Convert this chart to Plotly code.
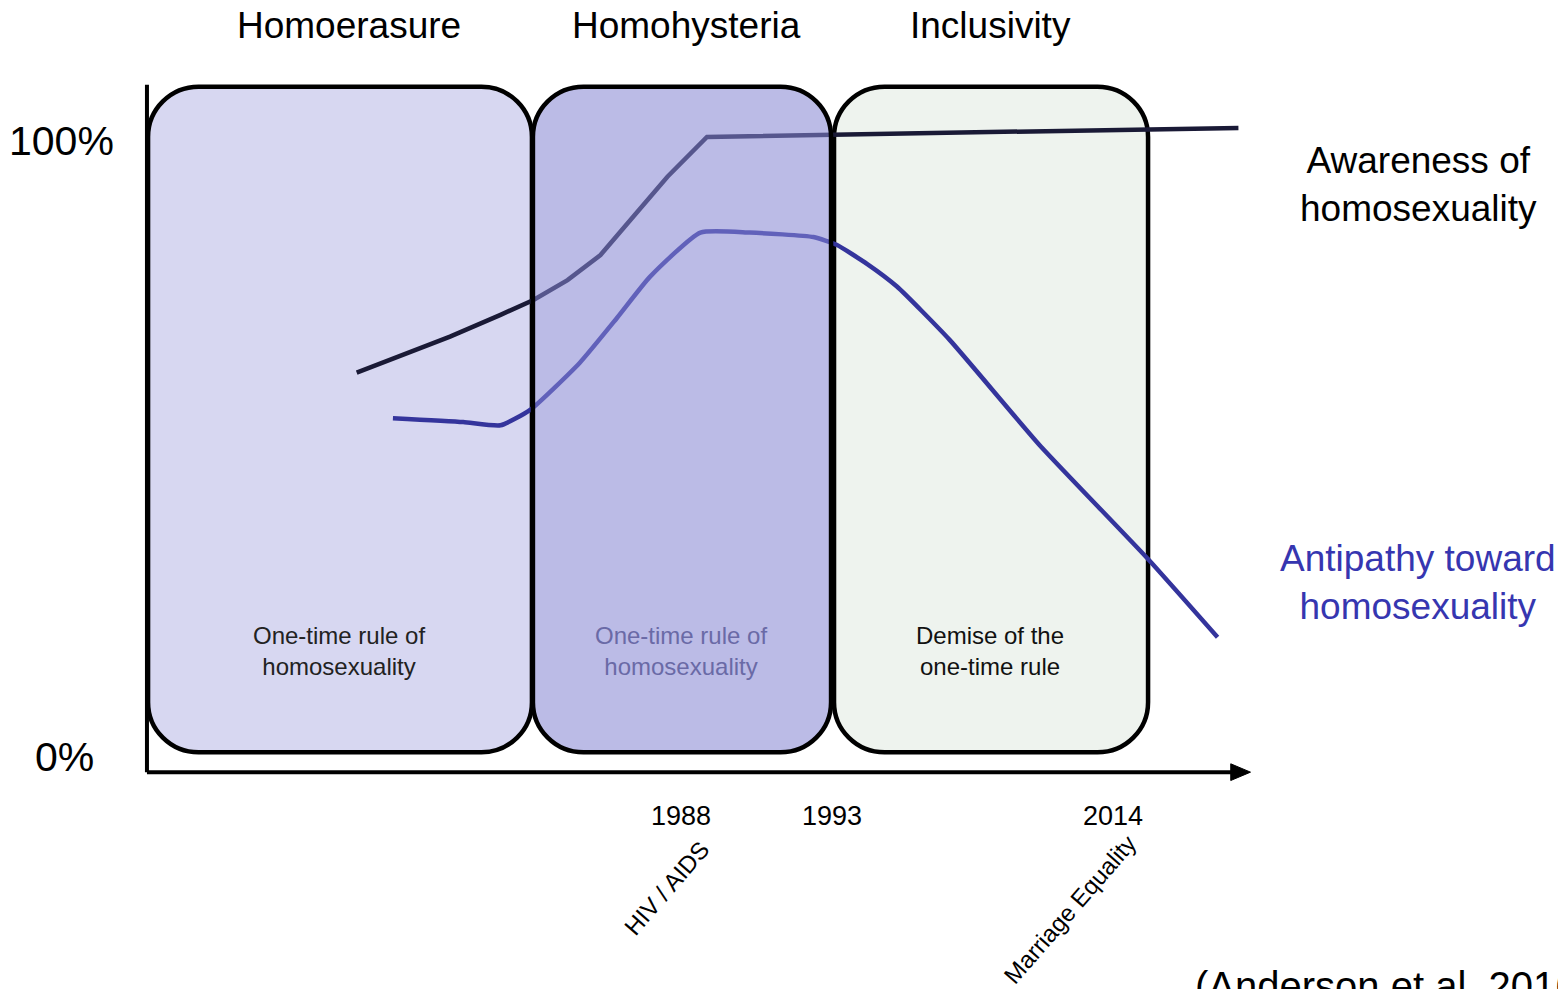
import plotly.graph_objects as go

# ---------------- data (conceptual units: x = time axis 0-100, y = percent) -------------
aware_x = [19.1, 27.6, 32.2, 35.2, 38.3, 41.3, 44.3, 47.4, 51.0, 62.2, 99.4]
aware_y = [62.2, 67.8, 71.2, 73.5, 76.6, 80.5, 86.5, 92.7, 98.9, 99.2, 100.3]

anti_x = [22.4, 28.8, 32.2, 34.9, 39.4, 42.8, 45.8, 50.4, 54.9, 60.7, 62.8, 65.6, 68.3, 73.1, 81.3, 91.1, 97.5]
anti_y = [55.1, 54.5, 54.0, 56.4, 63.7, 70.7, 77.1, 84.0, 84.0, 83.3, 82.1, 79.1, 75.6, 67.3, 50.9, 33.3, 21.0]

era_names = ["Homoerasure", "Homohysteria", "Inclusivity"]
era_x0 = [0.1, 35.15, 62.57]
era_x1 = [35.06, 62.30, 91.17]
era_text = ["One-time rule of<br>homosexuality", "One-time rule of<br>homosexuality",
            "Demise of the<br>one-time rule"]
era_fill = ["#d7d7f1", "rgba(134,134,210,0.56)", "#eef3ee"]
era_layer = ["below", "above", "below"]
era_textcolor = ["#222222", "#6a6aa6", "#111111"]

year_labels = ["1988", "1993", "2014"]
event_labels = ["HIV / AIDS", "Marriage Equality"]

# ---------------- layout helpers (screen pixels -> paper) -------------
W, H = 1566, 989
OFF = 8                                   # page body margin
L, R, T, B = 117, 1248, 64, 777           # plot area inside the figure
XR = [-2, 101]
YR = [-2, 109]
FONT = "Liberation Sans, Arial, Helvetica, sans-serif"

def px_x(px):
    return (px - OFF - L) / (R - L)

def px_y(py):
    return (B - (py - OFF)) / (B - T)

def rounded_rect(x0, x1, y0, y1, rx, ry):
    k = 0.5523
    return (f"M {x0+rx},{y1} L {x1-rx},{y1} "
            f"C {x1-rx+rx*k},{y1} {x1},{y1-ry+ry*k} {x1},{y1-ry} "
            f"L {x1},{y0+ry} "
            f"C {x1},{y0+ry-ry*k} {x1-rx+rx*k},{y0} {x1-rx},{y0} "
            f"L {x0+rx},{y0} "
            f"C {x0+rx-rx*k},{y0} {x0},{y0+ry-ry*k} {x0},{y0+ry} "
            f"L {x0},{y1-ry} "
            f"C {x0},{y1-ry+ry*k} {x0+rx-rx*k},{y1} {x0+rx},{y1} Z")

fig = go.Figure()

fig.add_trace(go.Scatter(x=aware_x, y=aware_y, mode="lines",
                         line=dict(color="#1a1a36", width=4.5, shape="linear"),
                         hoverinfo="skip", showlegend=False))
fig.add_trace(go.Scatter(x=anti_x, y=anti_y, mode="lines",
                         line=dict(color="#34349c", width=4.5, shape="spline", smoothing=0.5),
                         hoverinfo="skip", showlegend=False))

shapes = []
box_top, box_bot = 106.7, 3.1
for i in range(3):
    shapes.append(dict(type="path", xref="x", yref="y",
                       path=rounded_rect(era_x0[i], era_x1[i], box_bot, box_top, 4.6, 7.8),
                       fillcolor=era_fill[i], line=dict(color="black", width=4.5),
                       layer=era_layer[i]))

# axes
shapes.append(dict(type="line", xref="x", yref="y", x0=0, x1=0, y0=0, y1=107,
                   line=dict(color="black", width=4), layer="above"))
shapes.append(dict(type="line", xref="x", yref="y", x0=0, x1=99.2, y0=0, y1=0,
                   line=dict(color="black", width=4), layer="above"))
shapes.append(dict(type="path", xref="x", yref="y",
                   path="M 98.7,1.3 L 100.5,0 L 98.7,-1.3 Z",
                   fillcolor="black", line=dict(color="black", width=1), layer="above"))

def label(px, py, text, size, color="black", angle=0, xanchor="center"):
    return dict(x=px_x(px), y=px_y(py), xref="paper", yref="paper", text=text,
                showarrow=False, xanchor=xanchor, yanchor="middle", textangle=angle,
                font=dict(size=size, color=color, family=FONT))

ann = []
title_px = [349, 686, 990]
box_text_px = [339, 681, 990]
for i in range(3):
    ann.append(label(title_px[i], 25, era_names[i], 37))
    ann.append(label(box_text_px[i], 651, era_text[i], 24, era_textcolor[i]))

ann.append(label(61, 141, "100%", 41))
ann.append(label(64, 757, "0%", 41))

year_px = [681, 832, 1113]
for lab, px in zip(year_labels, year_px):
    ann.append(label(px, 816, lab, 27))

ann.append(label(666, 888, event_labels[0], 24, angle=-49))
ann.append(label(1070, 910, event_labels[1], 24, angle=-49))

ann.append(label(1418, 184, "Awareness of<br>homosexuality", 37))
ann.append(label(1418, 582, "Antipathy toward<br>homosexuality", 37, "#3636b0"))
ann.append(label(1193, 986, "(Anderson et al. 2016)", 40, xanchor="left"))

fig.update_layout(
    width=W, height=H,
    margin=dict(l=L, r=W - R, t=T, b=H - B),
    paper_bgcolor="white", plot_bgcolor="white",
    xaxis=dict(range=XR, visible=False, fixedrange=True),
    yaxis=dict(range=YR, visible=False, fixedrange=True),
    shapes=shapes, annotations=ann, showlegend=False,
)

fig.write_html("out.html")
